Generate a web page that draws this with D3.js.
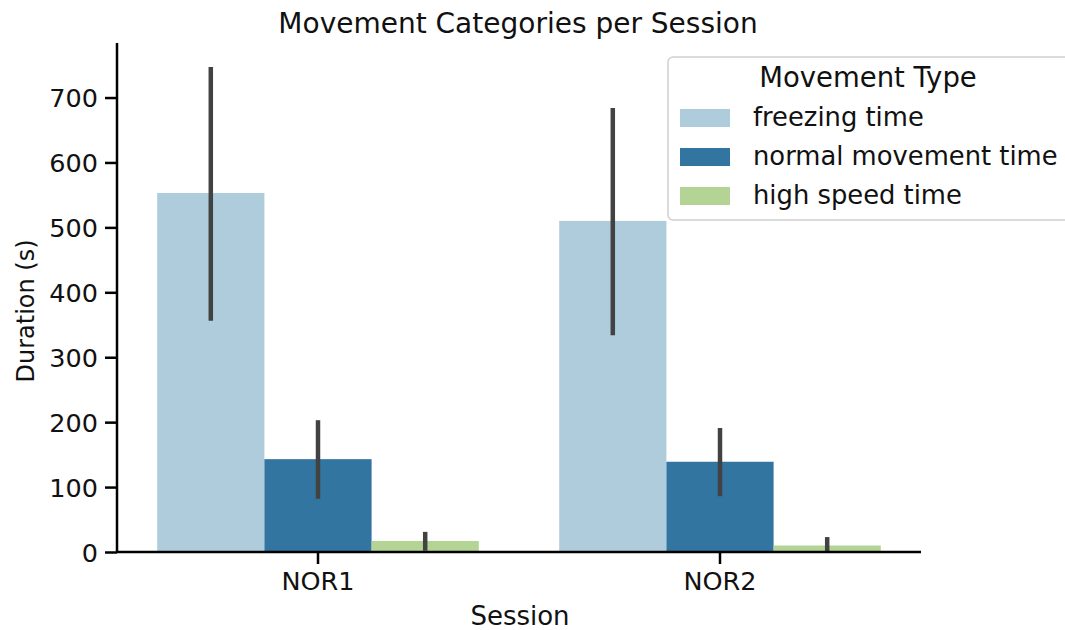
<!DOCTYPE html>
<html>
<head>
<meta charset="utf-8">
<script src="https://cdn.jsdelivr.net/npm/d3@7"></script>
<style>
  html, body { margin: 0; padding: 0; background: #fff; }
  svg { display: block; font-family: "DejaVu Sans", sans-serif; }
</style>
</head>
<body>
<svg id="chart" width="1065" height="630"></svg>
<script>
// Sessions and movement categories
const sessions = ["NOR1", "NOR2"];
const movementTypes = ["freezing time", "normal movement time", "high speed time"];
const typeColors = ["#aeccdb", "#3275a1", "#b3d495"];

// Mean duration (s) per movement type, one value per session
const freezingMean = [553, 510];
const normalMean = [143, 139];
const highSpeedMean = [17, 10];

// Confidence interval bounds per movement type
const freezingLow = [356, 334];
const freezingHigh = [747, 684];
const normalLow = [82, 86];
const normalHigh = [203, 191];
const highSpeedLow = [2, 1];
const highSpeedHigh = [31, 23];

const yTicks = [0, 100, 200, 300, 400, 500, 600, 700];

const means = [freezingMean, normalMean, highSpeedMean];
const lows = [freezingLow, normalLow, highSpeedLow];
const highs = [freezingHigh, normalHigh, highSpeedHigh];

const rows = [];
sessions.forEach((s, si) => {
  movementTypes.forEach((t, ti) => {
    rows.push({ session: s, type: t, ti, value: means[ti][si], lo: lows[ti][si], hi: highs[ti][si] });
  });
});

const svg = d3.select("#chart");
const plotLeft = 117, plotRight = 921, plotTop = 43, plotBottom = 552;

const x = d3.scaleBand().domain(sessions).range([plotLeft, plotRight]).padding(0);
const xInner = d3.scaleBand().domain(movementTypes)
  .range([x.bandwidth() * 0.1, x.bandwidth() * 0.9]).padding(0);
const y = d3.scaleLinear().domain([0, 784]).range([plotBottom, plotTop]);

// Bars
svg.append("g").selectAll("rect").data(rows).join("rect")
  .attr("x", d => x(d.session) + xInner(d.type))
  .attr("width", xInner.bandwidth())
  .attr("y", d => y(d.value))
  .attr("height", d => y(0) - y(d.value))
  .attr("fill", d => typeColors[d.ti]);

// Error bars
svg.append("g").selectAll("line").data(rows).join("line")
  .attr("x1", d => x(d.session) + xInner(d.type) + xInner.bandwidth() / 2)
  .attr("x2", d => x(d.session) + xInner(d.type) + xInner.bandwidth() / 2)
  .attr("y1", d => y(d.lo))
  .attr("y2", d => y(d.hi))
  .attr("stroke", "#424242")
  .attr("stroke-width", 4.5);

// Axes
const yAxis = svg.append("g")
  .attr("transform", `translate(${plotLeft},0)`)
  .call(d3.axisLeft(y).tickValues(yTicks).tickSize(12).tickPadding(7).tickSizeOuter(0));
const xAxis = svg.append("g")
  .attr("transform", `translate(0,${plotBottom})`)
  .call(d3.axisBottom(x).tickSize(12).tickPadding(8).tickSizeOuter(0));

[yAxis, xAxis].forEach(g => {
  g.select(".domain").attr("stroke", "#000").attr("stroke-width", 2.5);
  g.selectAll(".tick line").attr("stroke", "#000").attr("stroke-width", 2.5);
  g.selectAll(".tick text")
    .attr("fill", "#111")
    .style("font-family", "DejaVu Sans")
    .style("font-size", "25.5px");
});
yAxis.selectAll(".tick text").attr("dy", "0.36em");
// spines span the full plot area
yAxis.select(".domain").attr("d", `M0,${plotBottom}V${plotTop}`);
xAxis.select(".domain").attr("d", `M${plotLeft},0H${plotRight}`);

// Title and axis labels
svg.append("text")
  .attr("x", 518).attr("y", 33)
  .attr("text-anchor", "middle")
  .attr("fill", "#111")
  .style("font-size", "28px")
  .text("Movement Categories per Session");

svg.append("text")
  .attr("x", 520).attr("y", 625)
  .attr("text-anchor", "middle")
  .attr("fill", "#111")
  .style("font-size", "26px")
  .text("Session");

svg.append("text")
  .attr("transform", `translate(34,311) rotate(-90)`)
  .attr("text-anchor", "middle")
  .attr("fill", "#111")
  .style("font-size", "24px")
  .text("Duration (s)");

// Legend
const legend = svg.append("g");
legend.append("rect")
  .attr("x", 668).attr("y", 57)
  .attr("width", 420).attr("height", 163)
  .attr("rx", 5)
  .attr("fill", "#fff").attr("fill-opacity", 0.8)
  .attr("stroke", "#d0d0d0").attr("stroke-width", 1.5);

legend.append("text")
  .attr("x", 868).attr("y", 87)
  .attr("text-anchor", "middle")
  .attr("fill", "#111")
  .style("font-size", "27.5px")
  .text("Movement Type");

const items = legend.selectAll("g.item").data(movementTypes).join("g")
  .attr("class", "item")
  .attr("transform", (d, i) => `translate(0,${i * 39})`);
items.append("rect")
  .attr("x", 680).attr("y", 109)
  .attr("width", 50).attr("height", 18)
  .attr("fill", (d, i) => typeColors[i]);
items.append("text")
  .attr("x", 753).attr("y", 126)
  .attr("fill", "#111")
  .style("font-size", "25.8px")
  .text(d => d);
</script>
</body>
</html>
